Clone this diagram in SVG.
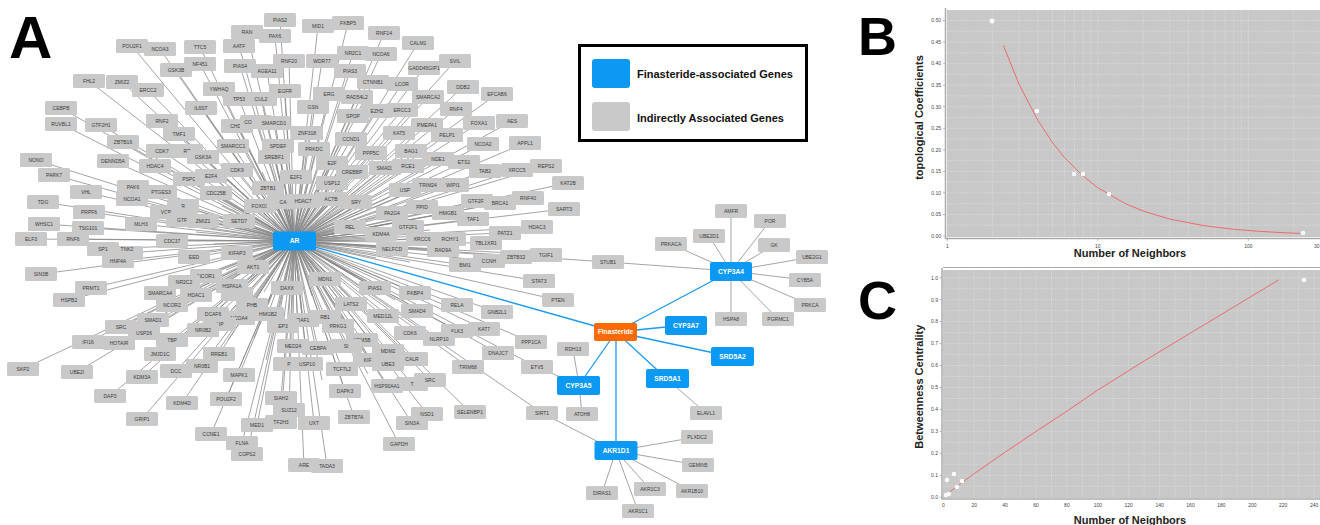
<svg xmlns="http://www.w3.org/2000/svg" width="1320" height="525" viewBox="0 0 1320 525">
<style>
text{font-family:"Liberation Sans",Arial,sans-serif}
.n{fill:#c9c9c9}
.n text{font-size:5px;fill:#3a3a3a;text-anchor:middle}
.b rect{fill:#0b99f4}
.o rect{fill:#fc6a05}
.b text,.o text{font-size:6.7px;font-weight:bold;fill:#fff;text-anchor:middle}
#edges line{stroke:#858585;stroke-width:0.75}
#edges line.bl{stroke:#1a9af2;stroke-width:1.3}
.letter{font-size:60px;font-weight:bold;fill:#000}
.tick{font-size:5px;fill:#444}
.ax{font-size:11px;font-weight:bold;fill:#222}
.grid{stroke:#eeeeee;stroke-width:0.5;stroke-dasharray:1,1.2}
.axl{stroke:#aaaaaa;stroke-width:1.5;fill:none}
.pt{fill:#fff}
.fit{fill:none;stroke:#f06060;stroke-width:0.9}
</style>
<rect width="1320" height="525" fill="#fff"/>
<text class="letter" x="9" y="58" font-size="62">A</text>
<text class="letter" x="858" y="55" style="font-size:54px">B</text>
<text class="letter" x="858" y="319" style="font-size:54px">C</text>

<g id="edges">
<line x1="294" y1="241" x2="132" y2="46"/><line x1="294" y1="241" x2="160" y2="49"/><line x1="294" y1="241" x2="200" y2="47"/><line x1="294" y1="241" x2="239" y2="46"/><line x1="294" y1="241" x2="247" y2="32"/><line x1="294" y1="241" x2="280" y2="20"/><line x1="294" y1="241" x2="275" y2="36"/><line x1="294" y1="241" x2="318" y2="26"/><line x1="294" y1="241" x2="348" y2="23"/><line x1="294" y1="241" x2="384" y2="33"/><line x1="294" y1="241" x2="418" y2="43"/><line x1="294" y1="241" x2="353" y2="53"/><line x1="294" y1="241" x2="381" y2="54"/><line x1="294" y1="241" x2="322" y2="61"/><line x1="294" y1="241" x2="289" y2="61"/><line x1="294" y1="241" x2="455" y2="61"/><line x1="294" y1="241" x2="424" y2="68"/><line x1="294" y1="241" x2="200" y2="64"/><line x1="294" y1="241" x2="176" y2="70"/><line x1="294" y1="241" x2="240" y2="66"/><line x1="294" y1="241" x2="267" y2="71"/><line x1="294" y1="241" x2="350" y2="71"/><line x1="294" y1="241" x2="373" y2="82"/><line x1="294" y1="241" x2="402" y2="84"/><line x1="294" y1="241" x2="89" y2="81"/><line x1="294" y1="241" x2="122" y2="82"/><line x1="294" y1="241" x2="148" y2="90"/><line x1="294" y1="241" x2="219" y2="89"/><line x1="294" y1="241" x2="285" y2="91"/><line x1="294" y1="241" x2="329" y2="94"/><line x1="294" y1="241" x2="357" y2="97"/><line x1="294" y1="241" x2="428" y2="97"/><line x1="294" y1="241" x2="463" y2="87"/><line x1="294" y1="241" x2="497" y2="94"/><line x1="294" y1="241" x2="239" y2="99"/><line x1="294" y1="241" x2="261" y2="99"/><line x1="294" y1="241" x2="313" y2="107"/><line x1="294" y1="241" x2="201" y2="108"/><line x1="294" y1="241" x2="61" y2="108"/><line x1="294" y1="241" x2="377" y2="111"/><line x1="294" y1="241" x2="402" y2="110"/><line x1="294" y1="241" x2="456" y2="109"/><line x1="294" y1="241" x2="353" y2="116"/><line x1="294" y1="241" x2="162" y2="121"/><line x1="294" y1="241" x2="61" y2="124"/><line x1="294" y1="241" x2="101" y2="125"/><line x1="294" y1="241" x2="237" y2="126"/><line x1="294" y1="241" x2="256" y2="122"/><line x1="294" y1="241" x2="274" y2="123"/><line x1="294" y1="241" x2="427" y2="125"/><line x1="294" y1="241" x2="479" y2="123"/><line x1="294" y1="241" x2="512" y2="121"/><line x1="294" y1="241" x2="307" y2="133"/><line x1="294" y1="241" x2="399" y2="133"/><line x1="294" y1="241" x2="179" y2="134"/><line x1="294" y1="241" x2="447" y2="135"/><line x1="294" y1="241" x2="351" y2="139"/><line x1="294" y1="241" x2="123" y2="142"/><line x1="294" y1="241" x2="483" y2="144"/><line x1="294" y1="241" x2="525" y2="143"/><line x1="294" y1="241" x2="233" y2="146"/><line x1="294" y1="241" x2="278" y2="146"/><line x1="294" y1="241" x2="314" y2="149"/><line x1="294" y1="241" x2="162" y2="151"/><line x1="294" y1="241" x2="187" y2="151"/><line x1="294" y1="241" x2="411" y2="151"/><line x1="294" y1="241" x2="371" y2="153"/><line x1="294" y1="241" x2="203" y2="157"/><line x1="294" y1="241" x2="274" y2="157"/><line x1="294" y1="241" x2="438" y2="159"/><line x1="294" y1="241" x2="464" y2="162"/><line x1="294" y1="241" x2="36" y2="160"/><line x1="294" y1="241" x2="113" y2="161"/><line x1="294" y1="241" x2="332" y2="163"/><line x1="294" y1="241" x2="155" y2="166"/><line x1="294" y1="241" x2="408" y2="166"/><line x1="294" y1="241" x2="546" y2="166"/><line x1="294" y1="241" x2="385" y2="168"/><line x1="294" y1="241" x2="237" y2="170"/><line x1="294" y1="241" x2="485" y2="171"/><line x1="294" y1="241" x2="517" y2="170"/><line x1="294" y1="241" x2="352" y2="172"/><line x1="294" y1="241" x2="54" y2="175"/><line x1="294" y1="241" x2="211" y2="176"/><line x1="294" y1="241" x2="296" y2="177"/><line x1="294" y1="241" x2="189" y2="179"/><line x1="294" y1="241" x2="332" y2="183"/><line x1="294" y1="241" x2="568" y2="183"/><line x1="294" y1="241" x2="428" y2="185"/><line x1="294" y1="241" x2="453" y2="185"/><line x1="294" y1="241" x2="133" y2="187"/><line x1="294" y1="241" x2="268" y2="188"/><line x1="294" y1="241" x2="405" y2="190"/><line x1="294" y1="241" x2="86" y2="192"/><line x1="294" y1="241" x2="161" y2="192"/><line x1="294" y1="241" x2="216" y2="193"/><line x1="294" y1="241" x2="528" y2="198"/><line x1="294" y1="241" x2="132" y2="199"/><line x1="294" y1="241" x2="331" y2="199"/><line x1="294" y1="241" x2="303" y2="201"/><line x1="294" y1="241" x2="477" y2="201"/><line x1="294" y1="241" x2="43" y2="202"/><line x1="294" y1="241" x2="283" y2="202"/><line x1="294" y1="241" x2="356" y2="202"/><line x1="294" y1="241" x2="500" y2="203"/><line x1="294" y1="241" x2="260" y2="206"/><line x1="294" y1="241" x2="183" y2="206"/><line x1="294" y1="241" x2="422" y2="207"/><line x1="294" y1="241" x2="564" y2="209"/><line x1="294" y1="241" x2="89" y2="212"/><line x1="294" y1="241" x2="166" y2="212"/><line x1="294" y1="241" x2="392" y2="213"/><line x1="294" y1="241" x2="448" y2="213"/><line x1="294" y1="241" x2="473" y2="219"/><line x1="294" y1="241" x2="182" y2="220"/><line x1="294" y1="241" x2="203" y2="221"/><line x1="294" y1="241" x2="239" y2="221"/><line x1="294" y1="241" x2="44" y2="224"/><line x1="294" y1="241" x2="141" y2="224"/><line x1="294" y1="241" x2="350" y2="227"/><line x1="294" y1="241" x2="408" y2="227"/><line x1="294" y1="241" x2="537" y2="227"/><line x1="294" y1="241" x2="88" y2="228"/><line x1="294" y1="241" x2="505" y2="233"/><line x1="294" y1="241" x2="381" y2="234"/><line x1="294" y1="241" x2="31" y2="239"/><line x1="294" y1="241" x2="73" y2="239"/><line x1="294" y1="241" x2="422" y2="239"/><line x1="294" y1="241" x2="450" y2="239"/><line x1="294" y1="241" x2="172" y2="241"/><line x1="294" y1="241" x2="486" y2="243"/><line x1="294" y1="241" x2="103" y2="249"/><line x1="294" y1="241" x2="392" y2="249"/><line x1="294" y1="241" x2="443" y2="250"/><line x1="294" y1="241" x2="127" y2="253"/><line x1="294" y1="241" x2="237" y2="253"/><line x1="294" y1="241" x2="546" y2="255"/><line x1="294" y1="241" x2="194" y2="257"/><line x1="294" y1="241" x2="516" y2="257"/><line x1="294" y1="241" x2="118" y2="261"/><line x1="294" y1="241" x2="489" y2="261"/><line x1="294" y1="241" x2="465" y2="265"/><line x1="294" y1="241" x2="253" y2="267"/><line x1="294" y1="241" x2="41" y2="274"/><line x1="294" y1="241" x2="206" y2="276"/><line x1="294" y1="241" x2="325" y2="279"/><line x1="294" y1="241" x2="539" y2="281"/><line x1="294" y1="241" x2="184" y2="282"/><line x1="294" y1="241" x2="232" y2="286"/><line x1="294" y1="241" x2="91" y2="288"/><line x1="294" y1="241" x2="287" y2="288"/><line x1="294" y1="241" x2="375" y2="288"/><line x1="294" y1="241" x2="237" y2="294"/><line x1="294" y1="241" x2="160" y2="293"/><line x1="294" y1="241" x2="196" y2="295"/><line x1="294" y1="241" x2="415" y2="293"/><line x1="294" y1="241" x2="69" y2="300"/><line x1="294" y1="241" x2="558" y2="300"/><line x1="294" y1="241" x2="172" y2="305"/><line x1="294" y1="241" x2="252" y2="305"/><line x1="294" y1="241" x2="351" y2="304"/><line x1="294" y1="241" x2="457" y2="305"/><line x1="294" y1="241" x2="417" y2="311"/><line x1="294" y1="241" x2="497" y2="312"/><line x1="294" y1="241" x2="213" y2="314"/><line x1="294" y1="241" x2="268" y2="314"/><line x1="294" y1="241" x2="383" y2="316"/><line x1="294" y1="241" x2="325" y2="317"/><line x1="294" y1="241" x2="239" y2="318"/><line x1="294" y1="241" x2="153" y2="320"/><line x1="294" y1="241" x2="303" y2="320"/><line x1="294" y1="241" x2="220" y2="324"/><line x1="294" y1="241" x2="283" y2="326"/><line x1="294" y1="241" x2="338" y2="326"/><line x1="294" y1="241" x2="121" y2="327"/><line x1="294" y1="241" x2="484" y2="329"/><line x1="294" y1="241" x2="203" y2="330"/><line x1="294" y1="241" x2="457" y2="331"/><line x1="294" y1="241" x2="144" y2="333"/><line x1="294" y1="241" x2="410" y2="333"/><line x1="294" y1="241" x2="439" y2="339"/><line x1="294" y1="241" x2="172" y2="340"/><line x1="294" y1="241" x2="362" y2="340"/><line x1="294" y1="241" x2="88" y2="342"/><line x1="294" y1="241" x2="119" y2="343"/><line x1="294" y1="241" x2="531" y2="342"/><line x1="294" y1="241" x2="293" y2="346"/><line x1="294" y1="241" x2="346" y2="346"/><line x1="294" y1="241" x2="318" y2="348"/><line x1="294" y1="241" x2="388" y2="351"/><line x1="294" y1="241" x2="498" y2="353"/><line x1="294" y1="241" x2="160" y2="354"/><line x1="294" y1="241" x2="219" y2="354"/><line x1="294" y1="241" x2="412" y2="359"/><line x1="294" y1="241" x2="369" y2="360"/><line x1="294" y1="241" x2="289" y2="364"/><line x1="294" y1="241" x2="307" y2="364"/><line x1="294" y1="241" x2="388" y2="364"/><line x1="294" y1="241" x2="202" y2="366"/><line x1="294" y1="241" x2="342" y2="369"/><line x1="294" y1="241" x2="468" y2="367"/><line x1="294" y1="241" x2="537" y2="367"/><line x1="294" y1="241" x2="23" y2="369"/><line x1="294" y1="241" x2="176" y2="371"/><line x1="294" y1="241" x2="77" y2="372"/><line x1="294" y1="241" x2="239" y2="375"/><line x1="294" y1="241" x2="142" y2="377"/><line x1="294" y1="241" x2="430" y2="380"/><line x1="294" y1="241" x2="412" y2="384"/><line x1="294" y1="241" x2="387" y2="386"/><line x1="294" y1="241" x2="345" y2="391"/><line x1="294" y1="241" x2="110" y2="396"/><line x1="294" y1="241" x2="281" y2="398"/><line x1="294" y1="241" x2="226" y2="399"/><line x1="294" y1="241" x2="182" y2="403"/><line x1="294" y1="241" x2="289" y2="410"/><line x1="294" y1="241" x2="470" y2="412"/><line x1="294" y1="241" x2="427" y2="414"/><line x1="294" y1="241" x2="542" y2="413"/><line x1="294" y1="241" x2="354" y2="417"/><line x1="294" y1="241" x2="142" y2="419"/><line x1="294" y1="241" x2="281" y2="422"/><line x1="294" y1="241" x2="412" y2="423"/><line x1="294" y1="241" x2="314" y2="423"/><line x1="294" y1="241" x2="257" y2="425"/><line x1="294" y1="241" x2="211" y2="434"/><line x1="294" y1="241" x2="242" y2="443"/><line x1="294" y1="241" x2="399" y2="444"/><line x1="294" y1="241" x2="247" y2="454"/><line x1="294" y1="241" x2="304" y2="465"/><line x1="294" y1="241" x2="327" y2="466"/>
<line x1="294" y1="241" x2="244" y2="150"/><line x1="294" y1="241" x2="262" y2="172"/><line x1="294" y1="241" x2="286" y2="160"/><line x1="294" y1="241" x2="318" y2="176"/><line x1="294" y1="241" x2="344" y2="188"/><line x1="294" y1="241" x2="370" y2="198"/><line x1="294" y1="241" x2="400" y2="222"/><line x1="294" y1="241" x2="430" y2="230"/><line x1="294" y1="241" x2="376" y2="258"/><line x1="294" y1="241" x2="410" y2="262"/><line x1="294" y1="241" x2="356" y2="276"/><line x1="294" y1="241" x2="395" y2="300"/><line x1="294" y1="241" x2="312" y2="296"/><line x1="294" y1="241" x2="264" y2="292"/><line x1="294" y1="241" x2="226" y2="270"/><line x1="294" y1="241" x2="214" y2="244"/><line x1="294" y1="241" x2="222" y2="206"/><line x1="294" y1="241" x2="196" y2="232"/><line x1="294" y1="241" x2="254" y2="338"/><line x1="294" y1="241" x2="298" y2="332"/><line x1="294" y1="241" x2="350" y2="332"/><line x1="294" y1="241" x2="368" y2="374"/><line x1="294" y1="241" x2="322" y2="380"/><line x1="294" y1="241" x2="266" y2="360"/><line x1="294" y1="241" x2="228" y2="340"/>
<line x1="294" y1="241" x2="608" y2="262"/>
<line x1="731" y1="271" x2="731" y2="211"/><line x1="731" y1="271" x2="770" y2="221"/><line x1="731" y1="271" x2="709" y2="236"/><line x1="731" y1="271" x2="671" y2="244"/><line x1="731" y1="271" x2="774" y2="245"/><line x1="731" y1="271" x2="812" y2="257"/><line x1="731" y1="271" x2="608" y2="262"/><line x1="731" y1="271" x2="805" y2="280"/><line x1="731" y1="271" x2="810" y2="305"/><line x1="731" y1="271" x2="731" y2="319"/><line x1="731" y1="271" x2="778" y2="319"/>
<line x1="579" y1="385" x2="573" y2="349"/><line x1="579" y1="385" x2="582" y2="414"/><line x1="579" y1="385" x2="537" y2="367"/>
<line x1="667" y1="379" x2="706" y2="413"/>
<line x1="616" y1="451" x2="697" y2="437"/><line x1="616" y1="451" x2="698" y2="465"/><line x1="616" y1="451" x2="692" y2="491"/><line x1="616" y1="451" x2="650" y2="489"/><line x1="616" y1="451" x2="638" y2="511"/><line x1="616" y1="451" x2="602" y2="493"/><line x1="616" y1="451" x2="542" y2="413"/>
<line class="bl" x1="294" y1="241" x2="616" y2="332"/><line class="bl" x1="616" y1="332" x2="731" y2="271"/><line class="bl" x1="616" y1="332" x2="686" y2="325"/><line class="bl" x1="616" y1="332" x2="733" y2="357"/><line class="bl" x1="616" y1="332" x2="667" y2="379"/><line class="bl" x1="616" y1="332" x2="579" y2="385"/><line class="bl" x1="616" y1="332" x2="616" y2="451"/>
</g>

<defs><rect id="nr" x="-16" y="-7" width="32" height="14" rx="1.5" fill="#c9c9c9"/></defs>
<g id="nodes">
<g id="n-POU2F1" class="n" transform="translate(132,46)"><use href="#nr"/><text y="1.8">POU2F1</text></g>
<g id="n-NCOA3" class="n" transform="translate(160,49)"><use href="#nr"/><text y="1.8">NCOA3</text></g>
<g id="n-TTC5" class="n" transform="translate(200,47)"><use href="#nr"/><text y="1.8">TTC5</text></g>
<g id="n-AATF" class="n" transform="translate(239,46)"><use href="#nr"/><text y="1.8">AATF</text></g>
<g id="n-RAN" class="n" transform="translate(247,32)"><use href="#nr"/><text y="1.8">RAN</text></g>
<g id="n-PIAS2" class="n" transform="translate(280,20)"><use href="#nr"/><text y="1.8">PIAS2</text></g>
<g id="n-PAX6" class="n" transform="translate(275,36)"><use href="#nr"/><text y="1.8">PAX6</text></g>
<g id="n-MID1" class="n" transform="translate(318,26)"><use href="#nr"/><text y="1.8">MID1</text></g>
<g id="n-FKBP5" class="n" transform="translate(348,23)"><use href="#nr"/><text y="1.8">FKBP5</text></g>
<g id="n-RNF14" class="n" transform="translate(384,33)"><use href="#nr"/><text y="1.8">RNF14</text></g>
<g id="n-CALM1" class="n" transform="translate(418,43)"><use href="#nr"/><text y="1.8">CALM1</text></g>
<g id="n-NR2C1" class="n" transform="translate(353,53)"><use href="#nr"/><text y="1.8">NR2C1</text></g>
<g id="n-NCOA6" class="n" transform="translate(381,54)"><use href="#nr"/><text y="1.8">NCOA6</text></g>
<g id="n-RNF20" class="n" transform="translate(289,61)"><use href="#nr"/><text y="1.8">RNF20</text></g>
<g id="n-WDR77" class="n" transform="translate(322,61)"><use href="#nr"/><text y="1.8">WDR77</text></g>
<g id="n-SVIL" class="n" transform="translate(455,61)"><use href="#nr"/><text y="1.8">SVIL</text></g>
<g id="n-GADD45GIP1" class="n" transform="translate(424,68)"><use href="#nr"/><text y="1.8">GADD45GIP1</text></g>
<g id="n-GSK3B" class="n" transform="translate(176,70)"><use href="#nr"/><text y="1.8">GSK3B</text></g>
<g id="n-ZNF451" class="n" transform="translate(200,64)"><use href="#nr"/><text y="1.8">NF451</text></g>
<g id="n-PIAS4" class="n" transform="translate(240,66)"><use href="#nr"/><text y="1.8">PIAS4</text></g>
<g id="n-MAGEA11" class="n" transform="translate(267,71)"><use href="#nr"/><text y="1.8">AGEA11</text></g>
<g id="n-PIAS3" class="n" transform="translate(350,71)"><use href="#nr"/><text y="1.8">PIAS3</text></g>
<g id="n-CTNNB1" class="n" transform="translate(373,82)"><use href="#nr"/><text y="1.8">CTNNB1</text></g>
<g id="n-LCOR" class="n" transform="translate(402,84)"><use href="#nr"/><text y="1.8">LCOR</text></g>
<g id="n-FHL2" class="n" transform="translate(89,81)"><use href="#nr"/><text y="1.8">FHL2</text></g>
<g id="n-ZMIZ2" class="n" transform="translate(122,82)"><use href="#nr"/><text y="1.8">ZMIZ2</text></g>
<g id="n-ERCC2" class="n" transform="translate(148,90)"><use href="#nr"/><text y="1.8">ERCC2</text></g>
<g id="n-YWHAQ" class="n" transform="translate(219,89)"><use href="#nr"/><text y="1.8">YWHAQ</text></g>
<g id="n-EGFR" class="n" transform="translate(285,91)"><use href="#nr"/><text y="1.8">EGFR</text></g>
<g id="n-ERG" class="n" transform="translate(329,94)"><use href="#nr"/><text y="1.8">ERG</text></g>
<g id="n-RAD54L2" class="n" transform="translate(357,97)"><use href="#nr"/><text y="1.8">RAD54L2</text></g>
<g id="n-DDB2" class="n" transform="translate(463,87)"><use href="#nr"/><text y="1.8">DDB2</text></g>
<g id="n-SMARCA2" class="n" transform="translate(428,97)"><use href="#nr"/><text y="1.8">SMARCA2</text></g>
<g id="n-EFCAB6" class="n" transform="translate(497,94)"><use href="#nr"/><text y="1.8">EFCAB6</text></g>
<g id="n-TP53" class="n" transform="translate(239,99)"><use href="#nr"/><text y="1.8">TP53</text></g>
<g id="n-CUL2" class="n" transform="translate(261,99)"><use href="#nr"/><text y="1.8">CUL2</text></g>
<g id="n-GSN" class="n" transform="translate(313,107)"><use href="#nr"/><text y="1.8">GSN</text></g>
<g id="n-IL6ST" class="n" transform="translate(201,108)"><use href="#nr"/><text y="1.8">IL6ST</text></g>
<g id="n-CEBPB" class="n" transform="translate(61,108)"><use href="#nr"/><text y="1.8">CEBPB</text></g>
<g id="n-EZH2" class="n" transform="translate(377,111)"><use href="#nr"/><text y="1.8">EZH2</text></g>
<g id="n-ERCC3" class="n" transform="translate(402,110)"><use href="#nr"/><text y="1.8">ERCC3</text></g>
<g id="n-RNF4" class="n" transform="translate(456,109)"><use href="#nr"/><text y="1.8">RNF4</text></g>
<g id="n-SPOP" class="n" transform="translate(353,116)"><use href="#nr"/><text y="1.8">SPOP</text></g>
<g id="n-RNF2" class="n" transform="translate(162,121)"><use href="#nr"/><text y="1.8">RNF2</text></g>
<g id="n-RUVBL1" class="n" transform="translate(61,124)"><use href="#nr"/><text y="1.8">RUVBL1</text></g>
<g id="n-GTF2H1" class="n" transform="translate(101,125)"><use href="#nr"/><text y="1.8">GTF2H1</text></g>
<g id="n-CHD8" class="n" transform="translate(237,126)"><use href="#nr"/><text y="1.8">CHD8</text></g>
<g id="n-CO" class="n" transform="translate(256,122)"><use href="#nr"/><text y="1.8" x="-8">CO</text></g>
<g id="n-SMARCD1" class="n" transform="translate(274,123)"><use href="#nr"/><text y="1.8">SMARCD1</text></g>
<g id="n-PMEPA1" class="n" transform="translate(427,125)"><use href="#nr"/><text y="1.8">PMEPA1</text></g>
<g id="n-FOXA1" class="n" transform="translate(479,123)"><use href="#nr"/><text y="1.8">FOXA1</text></g>
<g id="n-AES" class="n" transform="translate(512,121)"><use href="#nr"/><text y="1.8">AES</text></g>
<g id="n-ZNF318" class="n" transform="translate(307,133)"><use href="#nr"/><text y="1.8">ZNF318</text></g>
<g id="n-KAT5" class="n" transform="translate(399,133)"><use href="#nr"/><text y="1.8">KAT5</text></g>
<g id="n-TMF1" class="n" transform="translate(179,134)"><use href="#nr"/><text y="1.8">TMF1</text></g>
<g id="n-PELP1" class="n" transform="translate(447,135)"><use href="#nr"/><text y="1.8">PELP1</text></g>
<g id="n-CCND1" class="n" transform="translate(351,139)"><use href="#nr"/><text y="1.8">CCND1</text></g>
<g id="n-ZBTB16" class="n" transform="translate(123,142)"><use href="#nr"/><text y="1.8">ZBTB16</text></g>
<g id="n-NCOA2" class="n" transform="translate(483,144)"><use href="#nr"/><text y="1.8">NCOA2</text></g>
<g id="n-APPL1" class="n" transform="translate(525,143)"><use href="#nr"/><text y="1.8">APPL1</text></g>
<g id="n-SMARCC1" class="n" transform="translate(233,146)"><use href="#nr"/><text y="1.8">SMARCC1</text></g>
<g id="n-SPDEF" class="n" transform="translate(278,146)"><use href="#nr"/><text y="1.8">SPDEF</text></g>
<g id="n-PRKDC" class="n" transform="translate(314,149)"><use href="#nr"/><text y="1.8">PRKDC</text></g>
<g id="n-CDK7" class="n" transform="translate(162,151)"><use href="#nr"/><text y="1.8">CDK7</text></g>
<g id="n-RB" class="n" transform="translate(187,151)"><use href="#nr"/><text y="1.8">RP</text></g>
<g id="n-BAG1" class="n" transform="translate(411,151)"><use href="#nr"/><text y="1.8">BAG1</text></g>
<g id="n-PPP5C" class="n" transform="translate(371,153)"><use href="#nr"/><text y="1.8">PPP5C</text></g>
<g id="n-GSK3A" class="n" transform="translate(203,157)"><use href="#nr"/><text y="1.8">GSK3A</text></g>
<g id="n-SREBF1" class="n" transform="translate(274,157)"><use href="#nr"/><text y="1.8">SREBF1</text></g>
<g id="n-NDE1" class="n" transform="translate(438,159)"><use href="#nr"/><text y="1.8">NDE1</text></g>
<g id="n-ETS1" class="n" transform="translate(464,162)"><use href="#nr"/><text y="1.8">ETS1</text></g>
<g id="n-NONO" class="n" transform="translate(36,160)"><use href="#nr"/><text y="1.8">NONO</text></g>
<g id="n-DENND5A" class="n" transform="translate(113,161)"><use href="#nr"/><text y="1.8">DENND5A</text></g>
<g id="n-E2F" class="n" transform="translate(332,163)"><use href="#nr"/><text y="1.8">E2F</text></g>
<g id="n-HDAC4" class="n" transform="translate(155,166)"><use href="#nr"/><text y="1.8">HDAC4</text></g>
<g id="n-SMAD3" class="n" transform="translate(385,168)"><use href="#nr"/><text y="1.8">SMAD3</text></g>
<g id="n-RCE1" class="n" transform="translate(408,166)"><use href="#nr"/><text y="1.8">RCE1</text></g>
<g id="n-REPS2" class="n" transform="translate(546,166)"><use href="#nr"/><text y="1.8">REPS2</text></g>
<g id="n-CDK9" class="n" transform="translate(237,170)"><use href="#nr"/><text y="1.8">CDK9</text></g>
<g id="n-TAB2" class="n" transform="translate(485,171)"><use href="#nr"/><text y="1.8">TAB2</text></g>
<g id="n-XRCC5" class="n" transform="translate(517,170)"><use href="#nr"/><text y="1.8">XRCC5</text></g>
<g id="n-CREBBP" class="n" transform="translate(352,172)"><use href="#nr"/><text y="1.8">CREBBP</text></g>
<g id="n-PARK7" class="n" transform="translate(54,175)"><use href="#nr"/><text y="1.8">PARK7</text></g>
<g id="n-PSPC" class="n" transform="translate(189,179)"><use href="#nr"/><text y="1.8">PSPC</text></g>
<g id="n-E2F4" class="n" transform="translate(211,176)"><use href="#nr"/><text y="1.8">E2F4</text></g>
<g id="n-E2F1" class="n" transform="translate(296,177)"><use href="#nr"/><text y="1.8">E2F1</text></g>
<g id="n-USP12" class="n" transform="translate(332,183)"><use href="#nr"/><text y="1.8">USP12</text></g>
<g id="n-KAT2B" class="n" transform="translate(568,183)"><use href="#nr"/><text y="1.8">KAT2B</text></g>
<g id="n-USP" class="n" transform="translate(405,190)"><use href="#nr"/><text y="1.8">USP</text></g>
<g id="n-TRIM24" class="n" transform="translate(428,185)"><use href="#nr"/><text y="1.8">TRIM24</text></g>
<g id="n-WIPI1" class="n" transform="translate(453,185)"><use href="#nr"/><text y="1.8">WIPI1</text></g>
<g id="n-PAK6" class="n" transform="translate(133,187)"><use href="#nr"/><text y="1.8">PAK6</text></g>
<g id="n-ZBTB1" class="n" transform="translate(268,188)"><use href="#nr"/><text y="1.8">ZBTB1</text></g>
<g id="n-VHL" class="n" transform="translate(86,192)"><use href="#nr"/><text y="1.8">VHL</text></g>
<g id="n-PTGES3" class="n" transform="translate(161,192)"><use href="#nr"/><text y="1.8">PTGES3</text></g>
<g id="n-CDC25B" class="n" transform="translate(216,193)"><use href="#nr"/><text y="1.8">CDC25B</text></g>
<g id="n-RNF40" class="n" transform="translate(528,198)"><use href="#nr"/><text y="1.8">RNF40</text></g>
<g id="n-NCOA1" class="n" transform="translate(132,199)"><use href="#nr"/><text y="1.8">NCOA1</text></g>
<g id="n-GTF2F2" class="n" transform="translate(477,201)"><use href="#nr"/><text y="1.8">GTF2F2</text></g>
<g id="n-BRCA1" class="n" transform="translate(500,203)"><use href="#nr"/><text y="1.8">BRCA1</text></g>
<g id="n-TDG" class="n" transform="translate(43,202)"><use href="#nr"/><text y="1.8">TDG</text></g>
<g id="n-R" class="n" transform="translate(183,206)"><use href="#nr"/><text y="1.8">R</text></g>
<g id="n-FOXO1" class="n" transform="translate(260,206)"><use href="#nr"/><text y="1.8">FOXO1</text></g>
<g id="n-CA" class="n" transform="translate(283,202)"><use href="#nr"/><text y="1.8">CA</text></g>
<g id="n-HDAC7" class="n" transform="translate(303,201)"><use href="#nr"/><text y="1.8">HDAC7</text></g>
<g id="n-ACTB" class="n" transform="translate(331,199)"><use href="#nr"/><text y="1.8">ACTB</text></g>
<g id="n-SRY" class="n" transform="translate(356,202)"><use href="#nr"/><text y="1.8">SRY</text></g>
<g id="n-PPID" class="n" transform="translate(422,207)"><use href="#nr"/><text y="1.8">PPID</text></g>
<g id="n-SART3" class="n" transform="translate(564,209)"><use href="#nr"/><text y="1.8">SART3</text></g>
<g id="n-PRPF6" class="n" transform="translate(89,212)"><use href="#nr"/><text y="1.8">PRPF6</text></g>
<g id="n-VCP" class="n" transform="translate(166,212)"><use href="#nr"/><text y="1.8">VCP</text></g>
<g id="n-PA2G4" class="n" transform="translate(392,213)"><use href="#nr"/><text y="1.8">PA2G4</text></g>
<g id="n-HMGB1" class="n" transform="translate(448,213)"><use href="#nr"/><text y="1.8">HMGB1</text></g>
<g id="n-TAF1" class="n" transform="translate(473,219)"><use href="#nr"/><text y="1.8">TAF1</text></g>
<g id="n-GTF" class="n" transform="translate(182,220)"><use href="#nr"/><text y="1.8">GTF</text></g>
<g id="n-ZMIZ1" class="n" transform="translate(203,221)"><use href="#nr"/><text y="1.8">ZMIZ1</text></g>
<g id="n-SETD7" class="n" transform="translate(239,221)"><use href="#nr"/><text y="1.8">SETD7</text></g>
<g id="n-WHSC1" class="n" transform="translate(44,224)"><use href="#nr"/><text y="1.8">WHSC1</text></g>
<g id="n-MLH3" class="n" transform="translate(141,224)"><use href="#nr"/><text y="1.8">MLH3</text></g>
<g id="n-REL" class="n" transform="translate(350,227)"><use href="#nr"/><text y="1.8">REL</text></g>
<g id="n-GTF2F1" class="n" transform="translate(408,227)"><use href="#nr"/><text y="1.8">GTF2F1</text></g>
<g id="n-HDAC3" class="n" transform="translate(537,227)"><use href="#nr"/><text y="1.8">HDAC3</text></g>
<g id="n-TSG101" class="n" transform="translate(88,228)"><use href="#nr"/><text y="1.8">TSG101</text></g>
<g id="n-PATZ1" class="n" transform="translate(505,233)"><use href="#nr"/><text y="1.8">PATZ1</text></g>
<g id="n-KDM4A" class="n" transform="translate(381,234)"><use href="#nr"/><text y="1.8">KDM4A</text></g>
<g id="n-ELF3" class="n" transform="translate(31,239)"><use href="#nr"/><text y="1.8">ELF3</text></g>
<g id="n-RNF6" class="n" transform="translate(73,239)"><use href="#nr"/><text y="1.8">RNF6</text></g>
<g id="n-XRCC6" class="n" transform="translate(422,239)"><use href="#nr"/><text y="1.8">XRCC6</text></g>
<g id="n-RCHY1" class="n" transform="translate(450,239)"><use href="#nr"/><text y="1.8">RCHY1</text></g>
<g id="n-CDC37" class="n" transform="translate(172,241)"><use href="#nr"/><text y="1.8">CDC37</text></g>
<g id="n-TBL1XR1" class="n" transform="translate(486,243)"><use href="#nr"/><text y="1.8">TBL1XR1</text></g>
<g id="n-TNK2" class="n" transform="translate(127,253)"><use href="#nr"/><text y="-2">TNK2</text></g>
<g id="n-SP1" class="n" transform="translate(103,249)"><use href="#nr"/><text y="1.8">SP1</text></g>
<g id="n-NELFCD" class="n" transform="translate(392,249)"><use href="#nr"/><text y="1.8">NELFCD</text></g>
<g id="n-RAD9A" class="n" transform="translate(443,250)"><use href="#nr"/><text y="1.8">RAD9A</text></g>
<g id="n-KIFAP3" class="n" transform="translate(237,253)"><use href="#nr"/><text y="1.8">KIFAP3</text></g>
<g id="n-TGIF1" class="n" transform="translate(546,255)"><use href="#nr"/><text y="1.8">TGIF1</text></g>
<g id="n-EED" class="n" transform="translate(194,257)"><use href="#nr"/><text y="1.8">EED</text></g>
<g id="n-ZBTB32" class="n" transform="translate(516,257)"><use href="#nr"/><text y="1.8">ZBTB32</text></g>
<g id="n-HNF4A" class="n" transform="translate(118,261)"><use href="#nr"/><text y="1.8">HNF4A</text></g>
<g id="n-CCNH" class="n" transform="translate(489,261)"><use href="#nr"/><text y="1.8">CCNH</text></g>
<g id="n-BMI1" class="n" transform="translate(465,265)"><use href="#nr"/><text y="1.8">BMI1</text></g>
<g id="n-AKT1" class="n" transform="translate(253,267)"><use href="#nr"/><text y="1.8">AKT1</text></g>
<g id="n-SIN3B" class="n" transform="translate(41,274)"><use href="#nr"/><text y="1.8">SIN3B</text></g>
<g id="n-NCOR1" class="n" transform="translate(206,276)"><use href="#nr"/><text y="1.8">NCOR1</text></g>
<g id="n-MDN1" class="n" transform="translate(325,279)"><use href="#nr"/><text y="1.8">MDN1</text></g>
<g id="n-STAT3" class="n" transform="translate(539,281)"><use href="#nr"/><text y="1.8">STAT3</text></g>
<g id="n-NR2C2" class="n" transform="translate(184,282)"><use href="#nr"/><text y="1.8">NR2C2</text></g>
<g id="n-hidden1" class="n" transform="translate(237,294)"><use href="#nr"/></g>
<g id="n-HSPA1A" class="n" transform="translate(232,286)"><use href="#nr"/><text y="1.8">HSPA1A</text></g>
<g id="n-PRMT1" class="n" transform="translate(91,288)"><use href="#nr"/><text y="1.8">PRMT1</text></g>
<g id="n-DAXX" class="n" transform="translate(287,288)"><use href="#nr"/><text y="1.8">DAXX</text></g>
<g id="n-PIAS1" class="n" transform="translate(375,288)"><use href="#nr"/><text y="1.8">PIAS1</text></g>
<g id="n-SMARCA4" class="n" transform="translate(160,293)"><use href="#nr"/><text y="1.8">SMARCA4</text></g>
<g id="n-HDAC1" class="n" transform="translate(196,295)"><use href="#nr"/><text y="1.8">HDAC1</text></g>
<g id="n-FKBP4" class="n" transform="translate(415,293)"><use href="#nr"/><text y="1.8">FKBP4</text></g>
<g id="n-HSPB2" class="n" transform="translate(69,300)"><use href="#nr"/><text y="1.8">HSPB2</text></g>
<g id="n-PTEN" class="n" transform="translate(558,300)"><use href="#nr"/><text y="1.8">PTEN</text></g>
<g id="n-NCOR2" class="n" transform="translate(172,305)"><use href="#nr"/><text y="1.8">NCOR2</text></g>
<g id="n-PHB" class="n" transform="translate(252,305)"><use href="#nr"/><text y="1.8">PHB</text></g>
<g id="n-LATS2" class="n" transform="translate(351,304)"><use href="#nr"/><text y="1.8">LATS2</text></g>
<g id="n-RELA" class="n" transform="translate(457,305)"><use href="#nr"/><text y="1.8">RELA</text></g>
<g id="n-SMAD4" class="n" transform="translate(417,311)"><use href="#nr"/><text y="1.8">SMAD4</text></g>
<g id="n-GNB2L1" class="n" transform="translate(497,312)"><use href="#nr"/><text y="1.8">GNB2L1</text></g>
<g id="n-DCAF6" class="n" transform="translate(213,314)"><use href="#nr"/><text y="1.8">DCAF6</text></g>
<g id="n-HMGB2" class="n" transform="translate(268,314)"><use href="#nr"/><text y="1.8">HMGB2</text></g>
<g id="n-MED12L" class="n" transform="translate(383,316)"><use href="#nr"/><text y="1.8">MED12L</text></g>
<g id="n-RB1" class="n" transform="translate(325,317)"><use href="#nr"/><text y="1.8">RB1</text></g>
<g id="n-NCOA4" class="n" transform="translate(239,318)"><use href="#nr"/><text y="1.8">NCOA4</text></g>
<g id="n-SMAD1" class="n" transform="translate(153,320)"><use href="#nr"/><text y="1.8">SMAD1</text></g>
<g id="n-RAF1" class="n" transform="translate(303,320)"><use href="#nr"/><text y="1.8">RAF1</text></g>
<g id="n-UP" class="n" transform="translate(220,324)"><use href="#nr"/><text y="1.8">UP</text></g>
<g id="n-EP3" class="n" transform="translate(283,326)"><use href="#nr"/><text y="1.8">EP3</text></g>
<g id="n-PRKG1" class="n" transform="translate(338,326)"><use href="#nr"/><text y="1.8">PRKG1</text></g>
<g id="n-SRC-1" class="n" transform="translate(121,327)"><use href="#nr"/><text y="1.8">SRC</text></g>
<g id="n-KAT7" class="n" transform="translate(484,329)"><use href="#nr"/><text y="1.8">KAT7</text></g>
<g id="n-NR0B2" class="n" transform="translate(203,330)"><use href="#nr"/><text y="1.8">NR0B2</text></g>
<g id="n-KLK3" class="n" transform="translate(457,331)"><use href="#nr"/><text y="1.8">KLK3</text></g>
<g id="n-USP26" class="n" transform="translate(144,333)"><use href="#nr"/><text y="1.8">USP26</text></g>
<g id="n-CDK6" class="n" transform="translate(410,333)"><use href="#nr"/><text y="1.8">CDK6</text></g>
<g id="n-NLRP10" class="n" transform="translate(439,339)"><use href="#nr"/><text y="1.8">NLRP10</text></g>
<g id="n-TBP" class="n" transform="translate(172,340)"><use href="#nr"/><text y="1.8">TBP</text></g>
<g id="n-KDM5B" class="n" transform="translate(362,340)"><use href="#nr"/><text y="1.8">KDM5B</text></g>
<g id="n-IFI16" class="n" transform="translate(88,342)"><use href="#nr"/><text y="1.8">IFI16</text></g>
<g id="n-HOTAIR" class="n" transform="translate(119,343)"><use href="#nr"/><text y="1.8">HOTAIR</text></g>
<g id="n-PPP1CA" class="n" transform="translate(531,342)"><use href="#nr"/><text y="1.8">PPP1CA</text></g>
<g id="n-MED24" class="n" transform="translate(293,346)"><use href="#nr"/><text y="1.8">MED24</text></g>
<g id="n-SI" class="n" transform="translate(346,346)"><use href="#nr"/><text y="1.8">SI</text></g>
<g id="n-CEBPA" class="n" transform="translate(318,348)"><use href="#nr"/><text y="1.8">CEBPA</text></g>
<g id="n-MDM2" class="n" transform="translate(388,351)"><use href="#nr"/><text y="1.8">MDM2</text></g>
<g id="n-DNAJC7" class="n" transform="translate(498,353)"><use href="#nr"/><text y="1.8">DNAJC7</text></g>
<g id="n-JMJD1C" class="n" transform="translate(160,354)"><use href="#nr"/><text y="1.8">JMJD1C</text></g>
<g id="n-RREB1" class="n" transform="translate(219,354)"><use href="#nr"/><text y="1.8">RREB1</text></g>
<g id="n-CALR" class="n" transform="translate(412,359)"><use href="#nr"/><text y="1.8">CALR</text></g>
<g id="n-KIF1" class="n" transform="translate(369,360)"><use href="#nr"/><text y="1.8">KIF1</text></g>
<g id="n-P" class="n" transform="translate(289,364)"><use href="#nr"/><text y="1.8">P</text></g>
<g id="n-USP10" class="n" transform="translate(307,364)"><use href="#nr"/><text y="1.8">USP10</text></g>
<g id="n-UBE3" class="n" transform="translate(388,364)"><use href="#nr"/><text y="1.8">UBE3</text></g>
<g id="n-NR0B1" class="n" transform="translate(202,366)"><use href="#nr"/><text y="1.8">NR0B1</text></g>
<g id="n-TCF7L2" class="n" transform="translate(342,369)"><use href="#nr"/><text y="1.8">TCF7L2</text></g>
<g id="n-TRIM68" class="n" transform="translate(468,367)"><use href="#nr"/><text y="1.8">TRIM68</text></g>
<g id="n-ETV5" class="n" transform="translate(537,367)"><use href="#nr"/><text y="1.8">ETV5</text></g>
<g id="n-SKP2" class="n" transform="translate(23,369)"><use href="#nr"/><text y="1.8">SKP2</text></g>
<g id="n-DCC" class="n" transform="translate(176,371)"><use href="#nr"/><text y="1.8">DCC</text></g>
<g id="n-UBE2I" class="n" transform="translate(77,372)"><use href="#nr"/><text y="1.8">UBE2I</text></g>
<g id="n-MAPK1" class="n" transform="translate(239,375)"><use href="#nr"/><text y="1.8">MAPK1</text></g>
<g id="n-KDM3A" class="n" transform="translate(142,377)"><use href="#nr"/><text y="1.8">KDM3A</text></g>
<g id="n-T" class="n" transform="translate(412,384)"><use href="#nr"/><text y="1.8">T</text></g>
<g id="n-SRC-2" class="n" transform="translate(430,380)"><use href="#nr"/><text y="1.8">SRC</text></g>
<g id="n-HSP90AA1" class="n" transform="translate(387,386)"><use href="#nr"/><text y="1.8">HSP90AA1</text></g>
<g id="n-DAPK3" class="n" transform="translate(345,391)"><use href="#nr"/><text y="1.8">DAPK3</text></g>
<g id="n-DAP3" class="n" transform="translate(110,396)"><use href="#nr"/><text y="1.8">DAP3</text></g>
<g id="n-SIAH2" class="n" transform="translate(281,398)"><use href="#nr"/><text y="1.8">SIAH2</text></g>
<g id="n-POU2F2" class="n" transform="translate(226,399)"><use href="#nr"/><text y="1.8">POU2F2</text></g>
<g id="n-KDM4D" class="n" transform="translate(182,403)"><use href="#nr"/><text y="1.8">KDM4D</text></g>
<g id="n-SUZ12" class="n" transform="translate(289,410)"><use href="#nr"/><text y="1.8">SUZ12</text></g>
<g id="n-SELENBP1" class="n" transform="translate(470,412)"><use href="#nr"/><text y="1.8">SELENBP1</text></g>
<g id="n-NSD1" class="n" transform="translate(427,414)"><use href="#nr"/><text y="1.8">NSD1</text></g>
<g id="n-SIRT1" class="n" transform="translate(542,413)"><use href="#nr"/><text y="1.8">SIRT1</text></g>
<g id="n-ZBTB7A" class="n" transform="translate(354,417)"><use href="#nr"/><text y="1.8">ZBTB7A</text></g>
<g id="n-GRIP1" class="n" transform="translate(142,419)"><use href="#nr"/><text y="1.8">GRIP1</text></g>
<g id="n-TF2H3" class="n" transform="translate(281,422)"><use href="#nr"/><text y="1.8">TF2H3</text></g>
<g id="n-SIN3A" class="n" transform="translate(412,423)"><use href="#nr"/><text y="1.8">SIN3A</text></g>
<g id="n-UXT" class="n" transform="translate(314,423)"><use href="#nr"/><text y="1.8">UXT</text></g>
<g id="n-MED1" class="n" transform="translate(257,425)"><use href="#nr"/><text y="1.8">MED1</text></g>
<g id="n-CCNE1" class="n" transform="translate(211,434)"><use href="#nr"/><text y="1.8">CCNE1</text></g>
<g id="n-FLNA" class="n" transform="translate(242,443)"><use href="#nr"/><text y="1.8">FLNA</text></g>
<g id="n-GAPDH" class="n" transform="translate(399,444)"><use href="#nr"/><text y="1.8">GAPDH</text></g>
<g id="n-COPS2" class="n" transform="translate(247,454)"><use href="#nr"/><text y="1.8">COPS2</text></g>
<g id="n-ARE" class="n" transform="translate(304,465)"><use href="#nr"/><text y="1.8">ARE</text></g>
<g id="n-TADA3" class="n" transform="translate(327,466)"><use href="#nr"/><text y="1.8">TADA3</text></g>
<g id="n-AMFR" class="n" transform="translate(731,211)"><use href="#nr"/><text y="1.8">AMFR</text></g>
<g id="n-POR" class="n" transform="translate(770,221)"><use href="#nr"/><text y="1.8">POR</text></g>
<g id="n-UBE2D1" class="n" transform="translate(709,236)"><use href="#nr"/><text y="1.8">UBE2D1</text></g>
<g id="n-PRKACA" class="n" transform="translate(671,244)"><use href="#nr"/><text y="1.8">PRKACA</text></g>
<g id="n-GK" class="n" transform="translate(774,245)"><use href="#nr"/><text y="1.8">GK</text></g>
<g id="n-UBE2G1" class="n" transform="translate(812,257)"><use href="#nr"/><text y="1.8">UBE2G1</text></g>
<g id="n-STUB1" class="n" transform="translate(608,262)"><use href="#nr"/><text y="1.8">STUB1</text></g>
<g id="n-CYB5A" class="n" transform="translate(805,280)"><use href="#nr"/><text y="1.8">CYB5A</text></g>
<g id="n-PRKCA" class="n" transform="translate(810,305)"><use href="#nr"/><text y="1.8">PRKCA</text></g>
<g id="n-HSPA8" class="n" transform="translate(731,319)"><use href="#nr"/><text y="1.8">HSPA8</text></g>
<g id="n-PGRMC1" class="n" transform="translate(778,319)"><use href="#nr"/><text y="1.8">PGRMC1</text></g>
<g id="n-RDH13" class="n" transform="translate(573,349)"><use href="#nr"/><text y="1.8">RDH13</text></g>
<g id="n-ATOH8" class="n" transform="translate(582,414)"><use href="#nr"/><text y="1.8">ATOH8</text></g>
<g id="n-ELAVL1" class="n" transform="translate(706,413)"><use href="#nr"/><text y="1.8">ELAVL1</text></g>
<g id="n-PLXDC2" class="n" transform="translate(697,437)"><use href="#nr"/><text y="1.8">PLXDC2</text></g>
<g id="n-GEMIN5" class="n" transform="translate(698,465)"><use href="#nr"/><text y="1.8">GEMIN5</text></g>
<g id="n-DIRAS1" class="n" transform="translate(602,493)"><use href="#nr"/><text y="1.8">DIRAS1</text></g>
<g id="n-AKR1C3" class="n" transform="translate(650,489)"><use href="#nr"/><text y="1.8">AKR1C3</text></g>
<g id="n-AKR1B10" class="n" transform="translate(692,491)"><use href="#nr"/><text y="1.8">AKR1B10</text></g>
<g id="n-AKR1C1" class="n" transform="translate(638,511)"><use href="#nr"/><text y="1.8">AKR1C1</text></g>
<g id="n-AR" class="b" transform="translate(294.5,241)"><rect x="-21.5" y="-9.5" width="43" height="19" rx="2"/><text y="2.4">AR</text></g>
<g id="n-CYP3A4" class="b" transform="translate(731,271.5)"><rect x="-21" y="-9.5" width="42" height="19" rx="2"/><text y="2.4">CYP3A4</text></g>
<g id="n-CYP3A7" class="b" transform="translate(686,325.5)"><rect x="-21" y="-9.5" width="42" height="19" rx="2"/><text y="2.4">CYP3A7</text></g>
<g id="n-SRD5A2" class="b" transform="translate(732.5,356.5)"><rect x="-21.5" y="-9.5" width="43" height="19" rx="2"/><text y="2.4">SRD5A2</text></g>
<g id="n-SRD5A1" class="b" transform="translate(667.5,378.5)"><rect x="-21.5" y="-9.5" width="43" height="19" rx="2"/><text y="2.4">SRD5A1</text></g>
<g id="n-CYP3A5" class="b" transform="translate(578.5,385.5)"><rect x="-21.5" y="-9.5" width="43" height="19" rx="2"/><text y="2.4">CYP3A5</text></g>
<g id="n-AKR1D1" class="b" transform="translate(616,450.5)"><rect x="-21.5" y="-9.5" width="43" height="19" rx="2"/><text y="2.4">AKR1D1</text></g>
<g id="n-Finasteride" class="o" transform="translate(615.5,332)"><rect x="-21.5" y="-9" width="43" height="18" rx="2"/><text y="2.4">Finasteride</text></g>
</g>

<g id="legend">
<rect x="579.5" y="45.5" width="227" height="95" fill="#fff" stroke="#000" stroke-width="3"/>
<rect x="592" y="59" width="38" height="29" rx="3" fill="#0b99f4"/>
<rect x="592" y="102" width="38" height="29" rx="3" fill="#c9c9c9"/>
<text x="637" y="77.5" font-size="11" font-weight="bold" fill="#111">Finasteride-associated Genes</text>
<text x="637" y="121.5" font-size="11" font-weight="bold" fill="#111">Indirectly Associated Genes</text>
</g>

<g id="plotB">
<rect x="947" y="10" width="373" height="227" fill="#c8c8c8"/>
<g class="grid">
<path d="M947 20.5H1320M947 31.3H1320M947 42H1320M947 52.8H1320M947 63.6H1320M947 74.4H1320M947 85.2H1320M947 95.9H1320M947 106.7H1320M947 117.5H1320M947 128.3H1320M947 139H1320M947 149.8H1320M947 160.6H1320M947 171.4H1320M947 182.1H1320M947 192.9H1320M947 203.7H1320M947 214.5H1320M947 225.2H1320"/>
<path d="M992.6 10V237M1019.1 10V237M1037.9 10V237M1052.5 10V237M1064.4 10V237M1074.5 10V237M1083.2 10V237M1091 10V237M1097.8 10V237M1143.1 10V237M1169.6 10V237M1188.4 10V237M1203 10V237M1214.9 10V237M1225 10V237M1233.7 10V237M1241.4 10V237M1248.3 10V237M1293.6 10V237"/>
</g>
<path class="axl" d="M945.5 8V238.5H1320"/>
<path d="M943 20.5H946M943 42H946M943 63.6H946M943 85.2H946M943 106.7H946M943 128.3H946M943 149.8H946M943 171.4H946M943 192.9H946M943 214.5H946M943 236H946M947.3 238V241M1097.8 238V241M1248.3 238V241" stroke="#999" stroke-width="0.6"/>
<g class="tick" text-anchor="end">
<text x="941" y="22.3">0.50</text><text x="941" y="43.8">0.45</text><text x="941" y="65.4">0.40</text><text x="941" y="87">0.35</text><text x="941" y="108.5">0.30</text><text x="941" y="130.1">0.25</text><text x="941" y="151.6">0.20</text><text x="941" y="173.2">0.15</text><text x="941" y="194.7">0.10</text><text x="941" y="216.3">0.05</text><text x="941" y="237.8">0.00</text>
</g>
<g class="tick" text-anchor="middle">
<text x="947.3" y="248">1</text><text x="1097.8" y="248">10</text><text x="1248.3" y="248">100</text>
</g>
<text class="tick" x="1314" y="248">30</text>
<polyline class="fit" points="1003.4,45.5 1019.1,84.3 1037.9,120.5 1052.5,142.5 1064.4,157.5 1083.2,176.1 1097.8,187.7 1124.3,203.1 1143.1,211 1169.6,219 1203,225.5 1233.7,229.3 1260.2,231.4 1282.9,232.7 1300.1,233.4"/>
<circle class="pt" cx="992" cy="21" r="2.4"/><circle class="pt" cx="1037" cy="111" r="2.2"/><circle class="pt" cx="1074" cy="174" r="2.2"/><circle class="pt" cx="1083" cy="174" r="2.2"/><circle class="pt" cx="1109" cy="194" r="2.2"/><circle class="pt" cx="1303" cy="233" r="2.2"/>
<text class="ax" x="1130" y="256.5" text-anchor="middle">Number of Neighbors</text>
<text class="ax" transform="translate(922.5,117.5) rotate(-90)" text-anchor="middle">topological Coefficients</text>
</g>

<g id="plotC">
<rect x="943" y="270" width="377" height="228" fill="#c8c8c8"/>
<path d="M943 267.5H1320" stroke="#aaa" stroke-width="1"/>
<g class="grid">
<path d="M943 277.7H1320M943 288.7H1320M943 299.7H1320M943 310.7H1320M943 321.6H1320M943 332.6H1320M943 343.6H1320M943 354.6H1320M943 365.5H1320M943 376.5H1320M943 387.5H1320M943 398.5H1320M943 409.5H1320M943 420.4H1320M943 431.4H1320M943 442.4H1320M943 453.4H1320M943 464.3H1320M943 475.3H1320M943 486.3H1320"/>
<path d="M958.8 270V498M974.2 270V498M989.7 270V498M1005.1 270V498M1020.6 270V498M1036 270V498M1051.5 270V498M1066.9 270V498M1082.4 270V498M1097.8 270V498M1113.3 270V498M1128.7 270V498M1144.2 270V498M1159.6 270V498M1175.1 270V498M1190.5 270V498M1206 270V498M1221.4 270V498M1236.9 270V498M1252.3 270V498M1267.8 270V498M1283.2 270V498M1298.7 270V498M1314.1 270V498"/>
</g>
<path class="axl" d="M942 268V499H1320"/>
<path d="M939.5 277.7H942M939.5 299.7H942M939.5 321.6H942M939.5 343.6H942M939.5 365.5H942M939.5 387.5H942M939.5 409.5H942M939.5 431.4H942M939.5 453.4H942M939.5 475.3H942M939.5 497.3H942" stroke="#999" stroke-width="0.6"/>
<g class="tick" text-anchor="end">
<text x="938" y="279.5">1.0</text><text x="938" y="301.5">0.9</text><text x="938" y="323.4">0.8</text><text x="938" y="345.4">0.7</text><text x="938" y="367.3">0.6</text><text x="938" y="389.3">0.5</text><text x="938" y="411.3">0.4</text><text x="938" y="433.2">0.3</text><text x="938" y="455.2">0.2</text><text x="938" y="477.1">0.1</text><text x="938" y="499.1">0.0</text>
</g>
<g class="tick" text-anchor="middle">
<text x="943.3" y="507">0</text><text x="974.2" y="507">20</text><text x="1005.1" y="507">40</text><text x="1036" y="507">60</text><text x="1066.9" y="507">80</text><text x="1097.8" y="507">100</text><text x="1128.7" y="507">120</text><text x="1159.6" y="507">140</text><text x="1190.5" y="507">160</text><text x="1221.4" y="507">180</text><text x="1252.3" y="507">200</text><text x="1283.2" y="507">220</text><text x="1314.1" y="507">240</text>
</g>
<polyline class="fit" points="947,494 958.8,484.9 974.2,473.6 1005.1,452.2 1036,431.4 1066.9,411.2 1097.8,390 1144.2,361 1190.5,333 1236.9,305.1 1278.6,279.9"/>
<circle class="pt" cx="1304" cy="280" r="2.3"/><circle class="pt" cx="954" cy="474" r="2.2"/><circle class="pt" cx="947" cy="480" r="2.2"/><circle class="pt" cx="962" cy="481" r="2.2"/><circle class="pt" cx="957" cy="487" r="2.2"/><circle class="pt" cx="949" cy="494" r="2.2"/><circle class="pt" cx="946" cy="495" r="2.2"/>
<text class="ax" x="1130" y="523.5" text-anchor="middle">Number of Neighbors</text>
<text class="ax" transform="translate(922.5,386.7) rotate(-90)" text-anchor="middle">Betweenness Centrality</text>
</g>
</svg>
